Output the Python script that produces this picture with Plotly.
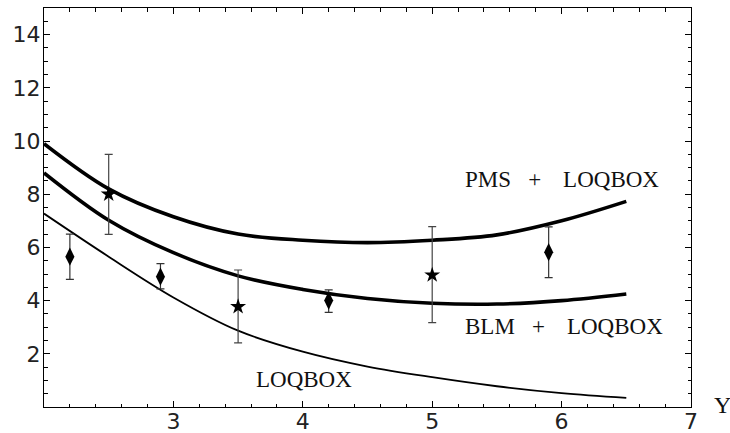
import plotly.graph_objects as go

# Curves
curve_x = [2.0, 2.5, 3.0, 3.5, 4.0, 4.5, 5.0, 5.5, 6.0, 6.5]
pms_loqbox = [9.9, 8.2, 7.15, 6.5, 6.27, 6.18, 6.27, 6.47, 7.0, 7.73]
blm_loqbox = [8.8, 7.02, 5.8, 4.93, 4.42, 4.08, 3.9, 3.87, 4.0, 4.25]
loqbox = [7.27, 5.65, 4.12, 2.87, 2.08, 1.52, 1.12, 0.78, 0.52, 0.34]

# Data points
diamond_x = [2.2, 2.9, 4.2, 5.9]
diamond_y = [5.65, 4.9, 4.0, 5.82]
diamond_hi = [6.5, 5.39, 4.4, 6.77]
diamond_lo = [4.8, 4.44, 3.56, 4.86]

star_x = [2.5, 3.5, 5.0]
star_y = [8.0, 3.77, 4.96]
star_hi = [9.5, 5.15, 6.78]
star_lo = [6.49, 2.41, 3.17]

x_ticks = [3, 4, 5, 6, 7]
y_ticks = [2, 4, 6, 8, 10, 12, 14]

NB = "\u00a0"
labels = ["PMS" + NB * 3 + "+" + NB * 3 + "\u2009" + "LOQBOX",
          "BLM" + NB * 3 + "+" + NB * 3 + "\u2009" + "LOQBOX",
          "LOQBOX"]
label_x = [5.24, 5.24, 3.62]
label_y = [8.55, 3.02, 1.02]

fig = go.Figure()
fig.add_trace(go.Scatter(x=curve_x, y=pms_loqbox, mode="lines",
                         line=dict(color="black", width=3.6, shape="spline")))
fig.add_trace(go.Scatter(x=curve_x, y=blm_loqbox, mode="lines",
                         line=dict(color="black", width=3.6, shape="spline")))
fig.add_trace(go.Scatter(x=curve_x, y=loqbox, mode="lines",
                         line=dict(color="black", width=1.8, shape="spline")))

fig.add_trace(go.Scatter(
    x=diamond_x, y=diamond_y, mode="markers",
    marker=dict(symbol="diamond-tall", size=13, color="black"),
    error_y=dict(type="data", symmetric=False,
                 array=[h - y for h, y in zip(diamond_hi, diamond_y)],
                 arrayminus=[y - l for l, y in zip(diamond_lo, diamond_y)],
                 color="#333", thickness=1.2, width=4)))
fig.add_trace(go.Scatter(
    x=star_x, y=star_y, mode="markers",
    marker=dict(symbol="star", size=12, color="black"),
    error_y=dict(type="data", symmetric=False,
                 array=[h - y for h, y in zip(star_hi, star_y)],
                 arrayminus=[y - l for l, y in zip(star_lo, star_y)],
                 color="#444", thickness=1.2, width=4)))

for t, lx, ly in zip(labels, label_x, label_y):
    fig.add_annotation(x=lx, y=ly, text=t, showarrow=False, xanchor="left",
                       yanchor="middle",
                       font=dict(family="Liberation Serif", size=23, color="#111"))

fig.add_annotation(x=1.048, y=0.006, xref="paper", yref="paper", text="Y",
                   showarrow=False, xanchor="center", yanchor="middle",
                   font=dict(family="Liberation Serif", size=24, color="#111"))

axis_common = dict(showgrid=False, zeroline=False, showline=True, linecolor="black",
                   linewidth=1, mirror="ticks", ticks="inside", tickcolor="black",
                   tickwidth=1, ticklen=6, automargin=False,
                   tickfont=dict(family="DejaVu Sans", size=22, color="#222"))

fig.update_xaxes(range=[2, 7], tickmode="array", tickvals=x_ticks,
                 ticklabelstandoff=-5,
                 minor=dict(tickmode="linear", tick0=2, dtick=0.2, ticks="inside",
                            ticklen=3.5, tickcolor="black", tickwidth=1, showgrid=False),
                 **axis_common)
fig.update_yaxes(range=[0, 15], tickmode="array", tickvals=y_ticks,
                 ticklabelstandoff=-2,
                 minor=dict(tickmode="linear", tick0=0, dtick=0.5, ticks="inside",
                            ticklen=3.5, tickcolor="black", tickwidth=1, showgrid=False),
                 **axis_common)

fig.update_layout(width=730, height=433, showlegend=False,
                  margin=dict(l=44, r=39, t=8, b=26),
                  plot_bgcolor="white", paper_bgcolor="white")

fig.write_html("out.html",
               config={"displayModeBar": False},
               post_script="document.body.style.margin='0';"
                           "document.body.style.padding='0';"
                           "document.body.style.overflow='hidden';")
